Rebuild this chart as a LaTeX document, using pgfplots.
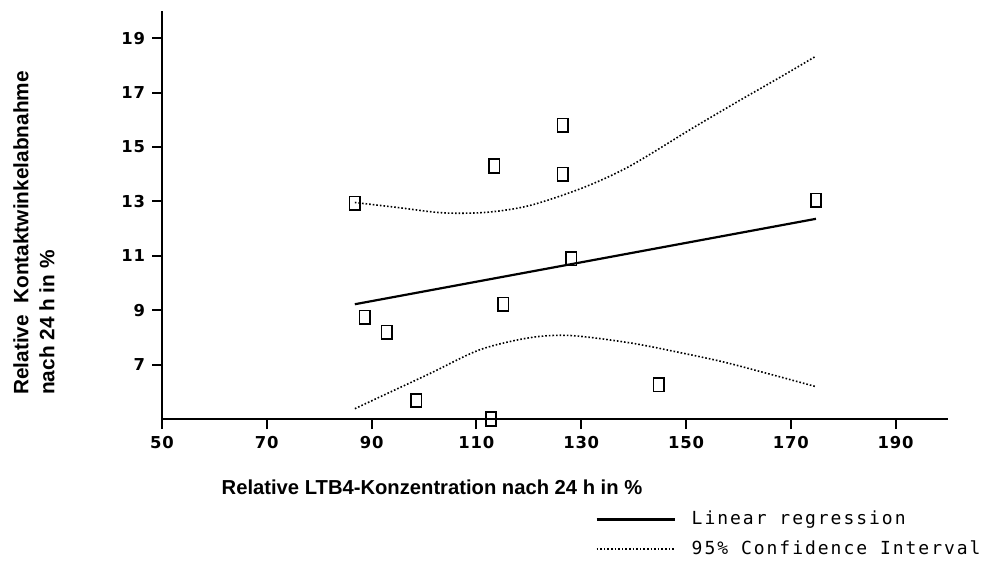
\documentclass[border=0pt]{standalone}
\usepackage{fontspec}
\setmainfont{Liberation Sans}
\newfontfamily\tickfont[LetterSpace=5]{DejaVu Sans}
\newfontfamily\legfont[LetterSpace=11]{DejaVu Sans Mono}
\usepackage{pgfplots}
\pgfplotsset{compat=1.18}

\begin{document}
\begin{tikzpicture}
\begin{axis}[
  scale only axis,
  width=393pt,
  height=204pt,
  xmin=50, xmax=200,
  ymin=5, ymax=20,
  xtick={50,70,...,190},
  ytick={7,9,...,19},
  axis x line*=bottom,
  axis y line*=left,
  axis line style={line width=1pt, -},
  tick style={line width=1pt, black},
  tick align=outside,
  major tick length=5pt,
  /pgf/number format/assume math mode=true,
  tick label style={font=\tickfont\bfseries\fontsize{8.2}{9}\selectfont},
  xlabel={Relative LTB4-Konzentration nach 24 h in \%},
  xlabel style={at={(axis description cs:0.067,-0.167)}, anchor=west,
    font=\bfseries\fontsize{10.1}{12.5}\selectfont},
  ylabel={Relative\ \ Kontaktwinkelabnahme\\nach 24 h in \%},
  ylabel style={at={(axis description cs:-0.163,0.042)}, anchor=west,
    align=left, font=\bfseries\fontsize{10.4}{13}\selectfont},
  legend style={at={(axis description cs:0.551,-0.215)}, anchor=north west,
    draw=none, fill=none, inner sep=0pt, row sep=2.5pt,
    font=\legfont\fontsize{9}{10}\selectfont},
  legend cell align=left,
  legend image code/.code={\draw[#1] (0pt,0pt) -- (39pt,0pt); \path (45pt,0pt);},
  clip=false,
]
% data points
\addplot[only marks, mark=square, mark size=2.6pt, mark options={yscale=1.3, line width=0.8pt, black}, forget plot] coordinates {
  (86.8,12.93) (88.7,8.74) (92.9,8.19) (98.5,5.68) (112.8,5.0) (113.4,14.3)
  (115.1,9.22) (126.5,15.8) (126.5,14.0) (128.1,10.89) (144.8,6.26) (174.8,13.04)
};
% regression line
\addplot[black, line width=1.1pt] coordinates {(86.8,9.22) (174.8,12.36)};
\addlegendentry{Linear regression}
% upper confidence limit
\addplot[black, line width=0.8pt, densely dotted, smooth] coordinates {
  (86.8,12.96) (94.8,12.78) (103.6,12.58) (112,12.6) (120.2,12.85) (130.3,13.5)
  (139.3,14.3) (151.3,15.7) (160.3,16.72) (168,17.57) (174.8,18.34)
};
\addlegendentry{95\% Confidence Interval}
% lower confidence limit
\addplot[black, line width=0.8pt, densely dotted, smooth, forget plot] coordinates {
  (86.8,5.38) (92,5.85) (101.1,6.67) (110.7,7.55) (120.2,7.99) (127.9,8.07)
  (139.3,7.8) (148.9,7.44) (157.1,7.1) (166,6.65) (174.8,6.19)
};
\coordinate (bl) at (axis description cs:-0.2061,-0.3529);
\coordinate (tr) at (axis description cs:1.0483,1.0270);
\end{axis}
\pgfresetboundingbox
\path[use as bounding box] (bl) rectangle (tr);
\end{tikzpicture}
\end{document}
